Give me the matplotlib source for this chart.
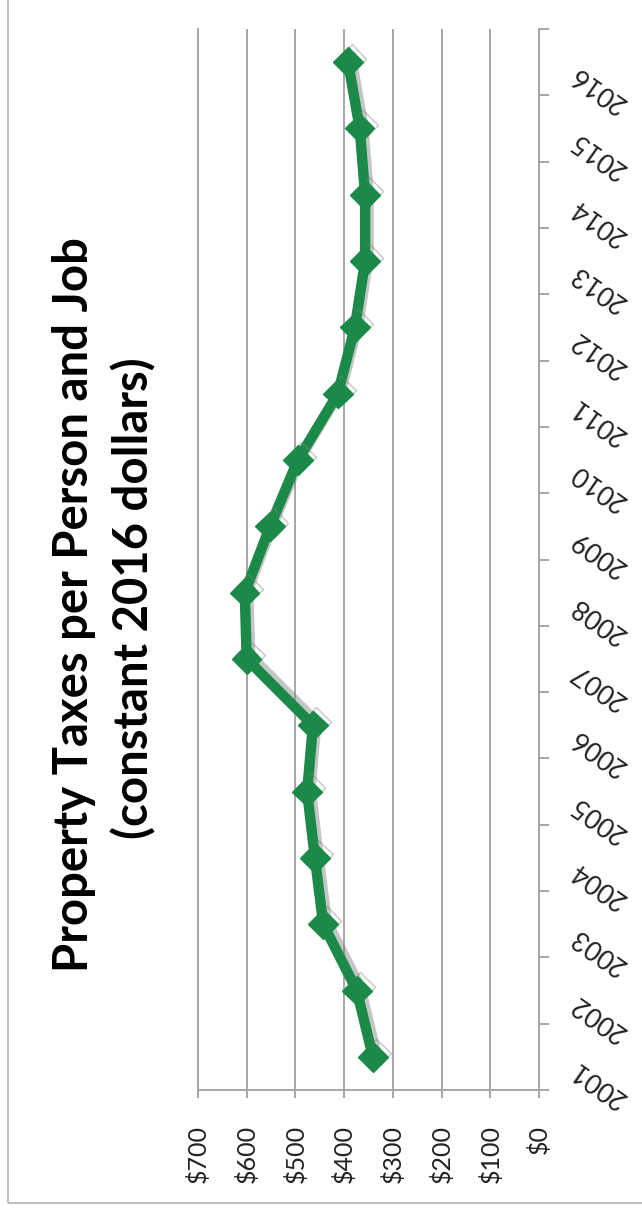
import matplotlib
matplotlib.use('Agg')
import matplotlib.pyplot as plt
import matplotlib.patheffects as pe
import matplotlib.transforms as mtransforms
from matplotlib.patches import Rectangle

W, H = 642, 1213

# data
years = list(range(2001, 2017))
year_labels = [str(y) for y in years]
taxes = [341, 374, 443, 460, 476, 464, 600, 604, 552, 495, 413, 378, 357, 357, 368, 392]
value_ticks = [0, 100, 200, 300, 400, 500, 600, 700]
value_labels = ['$' + str(v) for v in value_ticks]
title_1 = 'Property Taxes per Person and Job'
title_2 = '(constant 2016 dollars)'

c_line = '#1b8a48'
c_axis = '#a6a6a6'
font = 'Lato'

fig = plt.figure(figsize=(W / 100, H / 100), dpi=100)
fig.patch.set_facecolor('white')

# outer chart frame (top and right edges run off the picture)
fig.patches.append(Rectangle((8 / W, 1 - 1203 / H), 1.0, 1.0, transform=fig.transFigure,
                             fill=False, edgecolor='#c0c0c0', linewidth=1.5))

ax = fig.add_axes([198 / W, 1 - 1090 / H, (539 - 198) / W, (1090 - 29) / H])

ax.plot(taxes, years, color=c_line, lw=7.5, marker='D', markersize=15,
        solid_joinstyle='miter', zorder=3,
        path_effects=[pe.SimpleLineShadow(offset=(2.5, 2.5), shadow_color='#808080', alpha=0.45),
                      pe.Normal()])

ax.set_xlim(700, 0)
ax.set_ylim(2000.5, 2016.5)

ax.spines['top'].set_visible(False)
for s in ['left', 'right', 'bottom']:
    ax.spines[s].set_color(c_axis)
    ax.spines[s].set_linewidth(1.4)

ax.xaxis.grid(True, color=c_axis, lw=1.4)
ax.set_axisbelow(True)

ax.set_xticks(value_ticks)
ax.set_xticklabels(value_labels, rotation=90, fontsize=18, family=font, color='#222222')
ax.tick_params(axis='x', direction='out', length=6, width=1.4, color=c_axis, pad=19)

ax.yaxis.tick_right()
ax.set_yticks([y + 0.5 for y in [2000] + years])
ax.set_yticklabels([])
ax.tick_params(axis='y', direction='out', length=7, width=1.4, color=c_axis)

off = mtransforms.ScaledTranslation(34 / 100, -9 / 100, fig.dpi_scale_trans)
for yr, lab in zip(years, year_labels):
    ax.text(1.0, yr, lab, transform=ax.get_yaxis_transform() + off,
            rotation=145, rotation_mode='anchor', ha='right', va='center',
            fontsize=19, family=font, color='#222222')

fig.text(74 / W, 1 - 605 / H, title_1, rotation=90, ha='center', va='center',
         fontsize=34, weight='bold', family=font, color='black')
fig.text(134 / W, 1 - 598 / H, title_2, rotation=90, ha='center', va='center',
         fontsize=34, weight='bold', family=font, color='black')

fig.savefig('out.png', dpi=100, facecolor='white')
